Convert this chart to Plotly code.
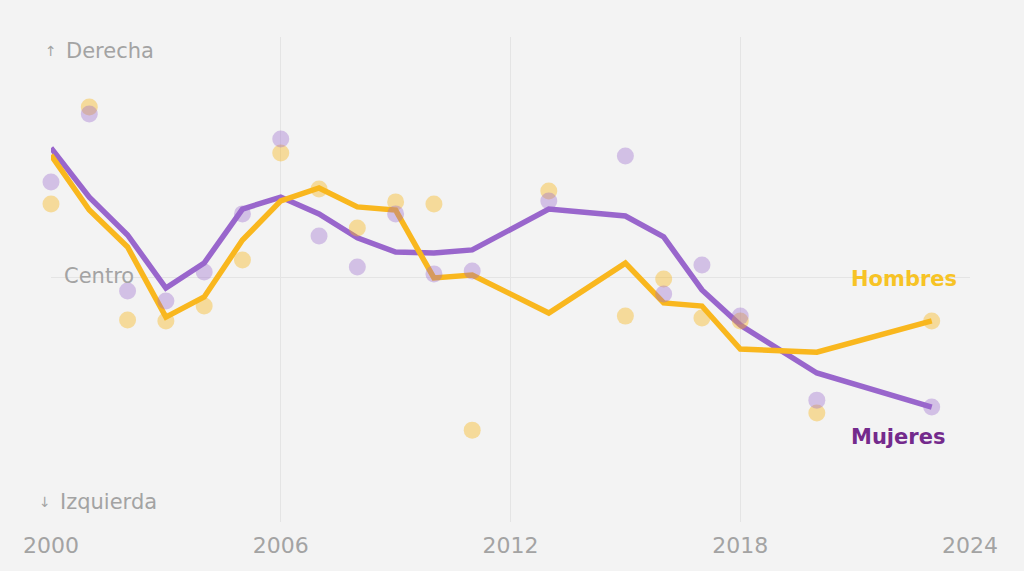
import plotly.graph_objects as go

years = [2000, 2001, 2002, 2003, 2004, 2005, 2006, 2007, 2008, 2009, 2010,
         2011, 2013, 2015, 2016, 2017, 2018, 2020, 2023]

# Smoothed trend (lines), scale: -1 = izquierda, 0 = centro, 1 = derecha
hombres_trend = [0.508, 0.279, 0.125, -0.167, -0.083, 0.154, 0.317, 0.371, 0.292, 0.279,
                 -0.004, 0.008, -0.150, 0.058, -0.108, -0.121, -0.300, -0.313, -0.183]
mujeres_trend = [0.538, 0.333, 0.175, -0.046, 0.058, 0.283, 0.333, 0.263, 0.163, 0.104,
                 0.100, 0.113, 0.283, 0.254, 0.167, -0.054, -0.200, -0.400, -0.542]

# Yearly survey values (dots)
hombres_points = [0.304, 0.708, -0.179, -0.183, -0.121, 0.071, 0.517, 0.367, 0.204, 0.313,
                  0.304, -0.638, 0.358, -0.163, -0.008, -0.171, -0.183, -0.567, -0.183]
mujeres_points = [0.396, 0.679, -0.058, -0.100, 0.021, 0.263, 0.575, 0.171, 0.042, 0.263,
                  0.013, 0.025, 0.317, 0.504, -0.071, 0.050, -0.163, -0.513, -0.542]

x_ticks = [2000, 2006, 2012, 2018, 2024]

YELLOW = "#F9B71E"
PURPLE = "#9966CC"
BG = "#F3F3F3"
GRID = "#E4E4E4"
GRAY = "#A3A3A3"
FONT = "DejaVu Sans"

fig = go.Figure()

fig.add_trace(go.Scatter(x=years, y=mujeres_trend, mode="lines",
                         line=dict(color=PURPLE, width=5.5), hoverinfo="skip",
                         cliponaxis=False, showlegend=False))
fig.add_trace(go.Scatter(x=years, y=hombres_trend, mode="lines",
                         line=dict(color=YELLOW, width=5.5), hoverinfo="skip",
                         cliponaxis=False, showlegend=False))
fig.add_trace(go.Scatter(x=years, y=hombres_points, mode="markers",
                         marker=dict(color=YELLOW, size=17, opacity=0.42, line=dict(width=0)),
                         cliponaxis=False, showlegend=False))
fig.add_trace(go.Scatter(x=years, y=mujeres_points, mode="markers",
                         marker=dict(color=PURPLE, size=17, opacity=0.36, line=dict(width=0)),
                         cliponaxis=False, showlegend=False))

fig.update_layout(
    width=1024, height=571,
    margin=dict(l=51, r=54, t=37, b=49),
    paper_bgcolor=BG, plot_bgcolor=BG,
    font=dict(family=FONT, color=GRAY),
    xaxis=dict(range=[2000, 2024], tickvals=x_ticks, showgrid=True, gridcolor=GRID,
               gridwidth=1, zeroline=False, showline=False, ticks="",
               ticklabelstandoff=8,
               tickfont=dict(size=22, color=GRAY, family=FONT)),
    yaxis=dict(range=[-1.0208, 1.0], tickvals=[-1.0208, 0, 1.0], showticklabels=False,
               showgrid=True, gridcolor=GRID, gridwidth=1, zeroline=False,
               showline=False, ticks=""),
)

ann = [
    dict(x=2000, y=0.94, text="↑", font=dict(size=14, color=GRAY, family=FONT),
         xanchor="center", yanchor="middle"),
    dict(x=2000.33, y=0.94, text="Derecha", font=dict(size=21, color=GRAY, family=FONT),
         xanchor="left", yanchor="middle"),
    dict(x=2000.28, y=0.005, text="Centro", font=dict(size=21, color=GRAY, family=FONT),
         xanchor="left", yanchor="middle"),
    dict(x=2000, y=-0.938, text="↓", font=dict(size=14, color=GRAY, family=FONT),
         xanchor="center", yanchor="middle", xshift=-6),
    dict(x=2000.18, y=-0.938, text="Izquierda", font=dict(size=21, color=GRAY, family=FONT),
         xanchor="left", yanchor="middle"),
    dict(x=2023.7, y=-0.008, text="<b>Hombres</b>",
         font=dict(size=21, color="#F7C325", family=FONT),
         xanchor="right", yanchor="middle"),
    dict(x=2023.4, y=-0.667, text="<b>Mujeres</b>",
         font=dict(size=21, color="#742A8C", family=FONT),
         xanchor="right", yanchor="middle"),
]
for a in ann:
    a.update(xref="x", yref="y", showarrow=False)
    fig.add_annotation(**a)

fig.write_html("out.html")
